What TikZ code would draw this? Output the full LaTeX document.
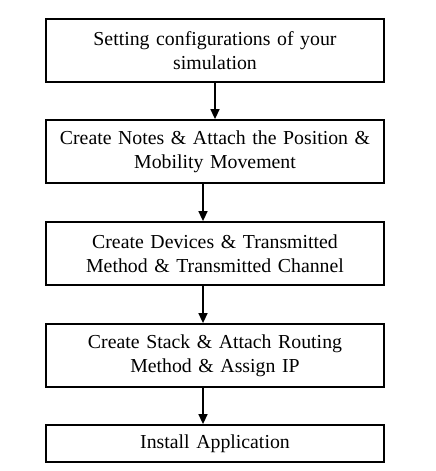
\documentclass[tikz,border=0pt]{standalone}
\usepackage{fontspec}
\setmainfont{Liberation Serif}
\usetikzlibrary{arrows.meta,positioning}

\begin{document}
\begin{tikzpicture}[x=1pt,y=-1pt,
  StepBox/.style={draw,line width=1.8pt,minimum width=338pt,text width=334pt,
    align=center,inner sep=0pt,font=\fontsize{19.8}{24}\selectfont},
  FlowArrow/.style={line width=1.5pt,-{Triangle[width=9pt,length=10pt]}}]
\useasboundingbox (0,0) rectangle (436,471);

\node[StepBox,minimum height=63pt] (Conf) at (215,50.5) {Setting configurations of your\\simulation};
\node[StepBox,minimum height=63pt] (Notes) at (215,151.5) {Create Notes \& Attach the Position \&\\Mobility Movement};
\node[StepBox,minimum height=63pt] (Dev) at (215,253.5) {Create Devices \& Transmitted\\Method \& Transmitted Channel};
\node[StepBox,minimum height=63pt] (Stack) at (215,355.5) {Create Stack \& Attach Routing\\Method \& Assign IP};
\node[StepBox,minimum height=37pt] (App) at (215,443.5) {Install Application};

\draw[FlowArrow] (Conf) -- (Notes);
\draw[FlowArrow] ([xshift=-12pt]Notes.south) -- ([xshift=-12pt]Dev.north);
\draw[FlowArrow] ([xshift=-12pt]Dev.south) -- ([xshift=-12pt]Stack.north);
\draw[FlowArrow] ([xshift=-12pt]Stack.south) -- ([xshift=-12pt]App.north);

\end{tikzpicture}
\end{document}
